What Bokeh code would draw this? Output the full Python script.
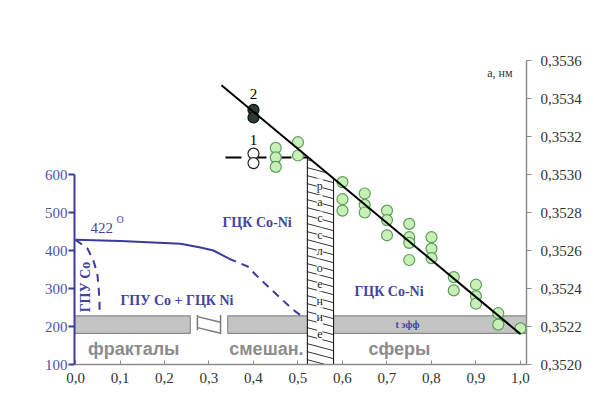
import numpy as np
from bokeh.plotting import figure
from bokeh.models import Range1d, LinearAxis, FixedTicker, Label, LabelSet, ColumnDataSource
from bokeh.core.properties import value
from bokeh.embed import file_html
from bokeh.resources import INLINE

SERIF = "Liberation Serif"
SANS = "Liberation Sans"
BLUE = "#3b3b9b"
TXT_BLUE = "#4343a3"
DARK = "#333333"

# ---------------- data ----------------
x_ticks = [0.0, 0.1, 0.2, 0.3, 0.4, 0.5, 0.6, 0.7, 0.8, 0.9, 1.0]
x_tick_labels = ["0,0", "0,1", "0,2", "0,3", "0,4", "0,5", "0,6", "0,7", "0,8", "0,9", "1,0"]
t_ticks = [100, 200, 300, 400, 500, 600]
a_ticks = [0.3520, 0.3522, 0.3524, 0.3526, 0.3528, 0.3530, 0.3532, 0.3534, 0.3536]
a_tick_labels = ["0,3520", "0,3522", "0,3524", "0,3526", "0,3528", "0,3530", "0,3532", "0,3534", "0,3536"]

# lattice parameter, green points
green_x = [0.45, 0.45, 0.45, 0.50, 0.50,
           0.60, 0.60, 0.60, 0.65, 0.65, 0.65,
           0.70, 0.70, 0.70, 0.75, 0.75, 0.75, 0.75,
           0.80, 0.80, 0.80, 0.85, 0.85, 0.90, 0.90, 0.90,
           0.95, 0.95, 1.00]
green_a = [0.35314, 0.35309, 0.35304, 0.35317, 0.35310,
           0.35296, 0.35287, 0.35281, 0.35290, 0.35284, 0.35280,
           0.35281, 0.35276, 0.35268, 0.35274, 0.35267, 0.35264, 0.35255,
           0.35267, 0.35261, 0.35256, 0.35246, 0.35239, 0.35242, 0.35236, 0.35232,
           0.35227, 0.35221, 0.35219]
p1_x = [0.40, 0.40]
p1_a = [0.35311, 0.35306]
p2_x = [0.40, 0.40]
p2_a = [0.35334, 0.35330]
fit_x = [0.328, 1.0]
fit_a = [0.35347, 0.35216]
level_x = [0.337, 0.52]
level_a = [0.35309, 0.35309]

# phase diagram (temperature, deg C)
solvus_x = [0.0, 0.101, 0.236, 0.281, 0.310, 0.344]
solvus_t = [428, 425, 418, 408, 400, 379]
solvus_dash_x = [0.344, 0.387, 0.411, 0.452, 0.488, 0.512]
solvus_dash_t = [379, 358, 329, 284, 245, 224]
hcp_x = [0.0, 0.027, 0.040, 0.049, 0.052, 0.054, 0.054]
hcp_t = [428, 405, 374, 339, 303, 261, 229]

band_t = [182, 228]
band_left = [-0.00225, 0.342]
band_right = [0.258, 1.0135]
gap_x = [0.521, 0.580]

# ---------------- figure ----------------
p = figure(width=594, height=412,
           x_range=Range1d(-0.00225, 1.0135), y_range=Range1d(0.3520, 0.3536),
           output_backend="svg", toolbar_location=None,
           x_axis_location=None, y_axis_location=None,
           min_border_left=74, min_border_right=68, min_border_top=60, min_border_bottom=48)
p.extra_y_ranges = {"t": Range1d(100, 900)}
p.outline_line_color = None
p.grid.grid_line_color = None
p.background_fill_color = "white"

xaxis = LinearAxis(ticker=FixedTicker(ticks=x_ticks),
                   major_label_overrides=dict(zip(x_ticks, x_tick_labels)))
xaxis.axis_line_color = "#8c8c8c"
xaxis.axis_line_width = 1.5
xaxis.major_tick_line_color = "#8c8c8c"
xaxis.major_tick_in = 4
xaxis.major_tick_out = 0
xaxis.minor_tick_line_color = None
xaxis.major_label_text_font = SERIF
xaxis.major_label_text_font_size = "15px"
xaxis.major_label_text_color = DARK
xaxis.major_label_standoff = 8
p.add_layout(xaxis, "below")

taxis = LinearAxis(y_range_name="t", ticker=FixedTicker(ticks=t_ticks), bounds=(100, 600))
taxis.axis_line_color = BLUE
taxis.axis_line_width = 2
taxis.major_tick_line_color = BLUE
taxis.major_tick_line_width = 2
taxis.major_tick_in = 0
taxis.major_tick_out = 6
taxis.minor_tick_line_color = None
taxis.major_label_text_font = SERIF
taxis.major_label_text_font_size = "15px"
taxis.major_label_text_color = "#5252a6"
taxis.major_label_standoff = 1
p.add_layout(taxis, "left")

aaxis = LinearAxis(ticker=FixedTicker(ticks=a_ticks),
                   major_label_overrides=dict(zip(a_ticks, a_tick_labels)))
aaxis.axis_line_color = "#8c8c8c"
aaxis.axis_line_width = 1.5
aaxis.major_tick_line_color = "#8c8c8c"
aaxis.major_tick_in = 0
aaxis.major_tick_out = 5
aaxis.minor_tick_line_color = None
aaxis.major_label_text_font = SERIF
aaxis.major_label_text_font_size = "15px"
aaxis.major_label_text_color = DARK
aaxis.major_label_standoff = 9
p.add_layout(aaxis, "right")

# gray t_eff band
p.quad(left=band_left, right=band_right, bottom=band_t[0], top=band_t[1], y_range_name="t",
       fill_color="#c4c4c4", line_color="#8a8a8a", line_width=1.2)

# axis-break symbol
bx0, bx1 = 0.274, 0.326
p.segment(x0=[bx0, bx0, bx0, bx1], y0=[230, 226, 197, 230],
          x1=[bx0, bx1, bx1, bx1], y1=[190, 211, 182, 180],
          y_range_name="t", line_color="#7a7a7a", line_width=1.5)

# hatched "расслоение" region
fa_l = float(np.interp(gap_x[0], fit_x, fit_a))
fa_r = float(np.interp(gap_x[1], fit_x, fit_a))
p.patch([gap_x[0], gap_x[0], gap_x[1], gap_x[1]], [0.3520, fa_l, fa_r, 0.3520],
        fill_color="white", line_color="black", line_width=1)
px_a = 0.001 / 190.0
spacing = 8 * px_a
drop = 7 * px_a
w = gap_x[1] - gap_x[0]
fs = (fa_r - fa_l) / w
hs = -drop / w
hx0, hy0, hx1, hy1 = [], [], [], []
yl = fa_l - 3 * px_a
while yl > 0.3520 - drop:
    xi = gap_x[0] + (yl - fa_l) / (fs - hs)
    xe = min(gap_x[1], xi)
    if xe > gap_x[0]:
        hx0.append(gap_x[0]); hy0.append(yl)
        hx1.append(xe); hy1.append(yl + hs * (xe - gap_x[0]))
    yl -= spacing
p.segment(x0=hx0, y0=hy0, x1=hx1, y1=hy1, line_color="black", line_width=0.8)

letters = list("расслоение")
letter_a = list(np.linspace(0.352942, 0.352163, len(letters)))
lsrc = ColumnDataSource(dict(x=[0.549] * len(letters), y=letter_a, t=letters))
p.add_layout(LabelSet(x="x", y="y", text="t", source=lsrc, text_align="center",
                      text_baseline="middle", text_font=value(SERIF), text_font_size="12px",
                      text_color="#222222", background_fill_color="white"))

# phase boundaries
p.line(solvus_x, solvus_t, y_range_name="t", line_color=BLUE, line_width=2)
p.line(solvus_dash_x, solvus_dash_t, y_range_name="t", line_color=BLUE, line_width=2,
       line_dash="8 6")
p.line(hcp_x, hcp_t, y_range_name="t", line_color=BLUE, line_width=2, line_dash="8 6")

# blue phase labels
p.text(x=[0.408, 0.7045, 0.228], y=[0.352747, 0.352386, 0.352337],
       text=["ГЦК Co-Ni", "ГЦК Co-Ni", "ГПУ Co + ГЦК Ni"],
       text_font=value(SERIF), text_font_style="bold", text_font_size="14px",
       text_color=TXT_BLUE, text_align="center", text_baseline="middle")
p.text(x=[0.0225], y=[0.352408], text=["ГПУ Co"], angle=np.pi / 2,
       text_font=value(SERIF), text_font_style="bold", text_font_size="14px",
       text_color=TXT_BLUE, text_align="center", text_baseline="middle")
p.text(x=[0.746], y=[0.352211], text=["t эфф"],
       text_font=value(SERIF), text_font_style="bold", text_font_size="10px",
       text_color=TXT_BLUE, text_align="center", text_baseline="middle")
p.text(x=[0.0337], y=[0.352721], text=["422"],
       text_font=value(SERIF), text_font_size="15px",
       text_color=TXT_BLUE, text_align="left", text_baseline="middle")
p.text(x=[0.092], y=[0.352763], text=["O"],
       text_font=value(SERIF), text_font_size="10px",
       text_color=TXT_BLUE, text_align="left", text_baseline="middle")

# morphology labels
p.text(x=[0.131, 0.429, 0.728], y=[0.352084] * 3, text=["фракталы", "смешан.", "сферы"],
       text_font=value(SANS), text_font_style="bold", text_font_size="18px",
       text_color="#8c8c8c", text_align="center", text_baseline="middle")

# lattice parameter data
p.line(level_x, level_a, line_color="black", line_width=2, line_dash="16 9")
p.scatter(green_x, green_a, size=11, fill_color="#c8f0b6", line_color="#5a9e5a", line_width=1.2)
p.scatter(p1_x, p1_a, size=11, fill_color="white", line_color="#222222", line_width=1.2)
p.scatter(p2_x, p2_a, size=11, fill_color="#2f3a30", line_color="#111111", line_width=1.2)
p.line(fit_x, fit_a, line_color="black", line_width=2)
p.text(x=[0.40, 0.40], y=[0.353179, 0.353426], text=["1", "2"],
       text_font=value(SERIF), text_font_size="15px", text_color="black",
       text_align="center", text_baseline="middle")
p.text(x=[0.982], y=[0.353532], text=["а, нм"],
       text_font=value(SERIF), text_font_size="12px", text_color=DARK,
       text_align="right", text_baseline="middle")

# labels outside the frame
p.add_layout(Label(x=-0.1416, y=0.352916, text="t,", text_font=SERIF, text_font_size="15px",
                   text_color=TXT_BLUE, text_align="left", text_baseline="middle"))
p.add_layout(Label(x=-0.119, y=0.352945, text="o", text_font=SERIF, text_font_size="10px",
                   text_color=TXT_BLUE, text_align="left", text_baseline="middle"))
p.add_layout(Label(x=-0.1056, y=0.352916, text="C", text_font=SERIF, text_font_size="15px",
                   text_color=TXT_BLUE, text_align="left", text_baseline="middle"))
p.add_layout(Label(x=0.503, y=0.351790, text="масс. доля Ni", text_font=SERIF,
                   text_font_size="14px", text_color=DARK, text_align="center",
                   text_baseline="middle"))

open("out.html", "w").write(file_html(p, INLINE))
